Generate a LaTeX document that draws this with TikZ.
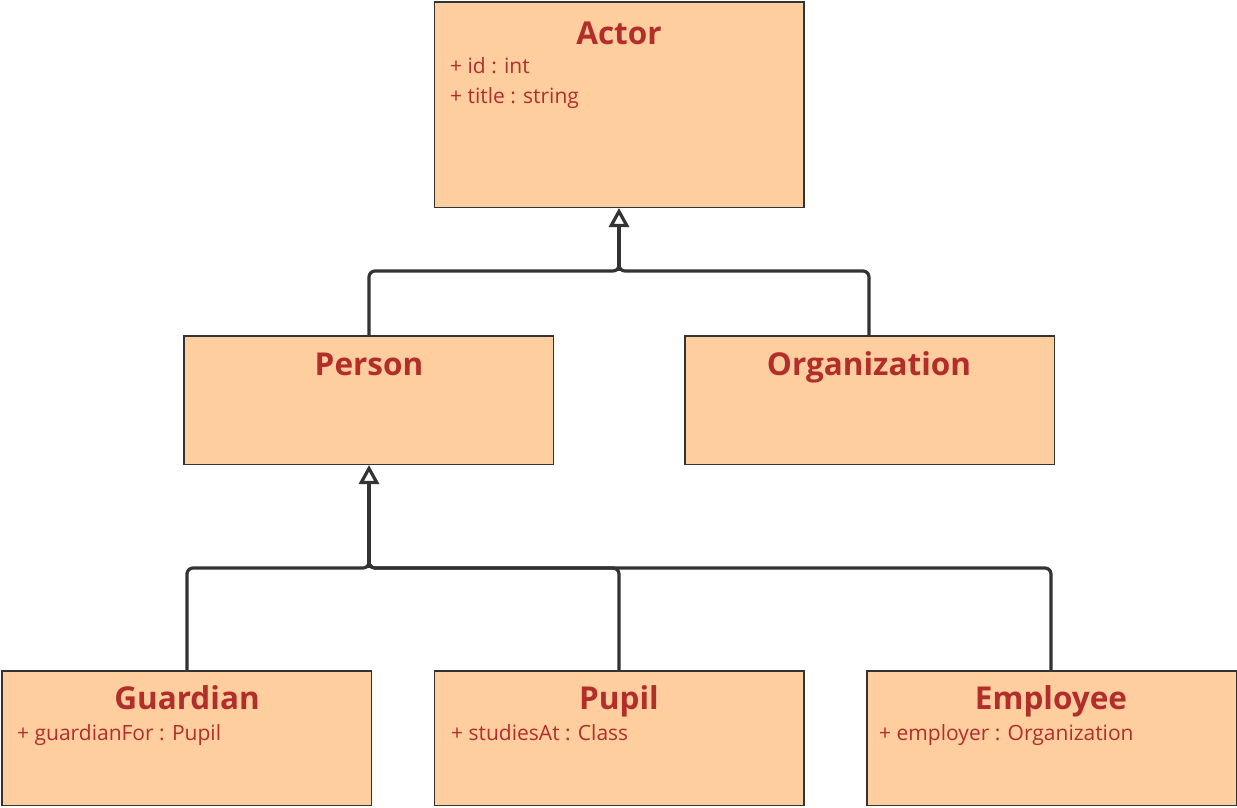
\documentclass[tikz,border=0pt]{standalone}
\usepackage{fontspec}
\setmainfont{Open Sans}
\usetikzlibrary{arrows.meta}
\definecolor{boxfill}{HTML}{FFCE9F}
\definecolor{boxline}{HTML}{333333}
\definecolor{txt}{HTML}{B22E2B}
\tikzset{
  umlbox/.style={draw=boxline, fill=boxfill, line width=1.5pt, rectangle, inner sep=0pt, minimum width=369.5pt},
  ttl/.style={text=txt, font=\fontsize{31.5}{36}\selectfont\bfseries, anchor=base, inner sep=0pt},
  attr/.style={text=txt, font=\fontsize{21}{25}\selectfont, anchor=base west, inner sep=0pt},
  conn/.style={draw=boxline, line width=3.2pt, rounded corners=6pt},
  gen/.style={draw=boxline, line width=3.2pt, -{Triangle[open, fill=white, length=19pt, width=20pt]}}
}
\begin{document}
\begin{tikzpicture}[x=1pt, y=-1pt]
\useasboundingbox (0,0) rectangle (1237,807);
% boxes
\node[umlbox, minimum height=205.5pt] (actor) at (619,104.5) {};
\node[umlbox, minimum height=128.5pt] (person) at (368.5,400) {};
\node[umlbox, minimum height=128.5pt] (org) at (869.5,400) {};
\node[umlbox, minimum height=134.5pt] (guard) at (186.5,738) {};
\node[umlbox, minimum height=134.5pt] (pupil) at (619,738) {};
\node[umlbox, minimum height=134.5pt] (emp) at (1051.5,738) {};
% titles and attributes
\node[ttl] (tactor) at (619,44) {Actor};
\node[attr] (a1) at (450,73) {+ id : int};
\node[attr] (a2) at (450,103) {+ title : string};
\node[ttl] (tperson) at (369,375) {Person};
\node[ttl] (torg) at (869,375) {Organization};
\node[ttl] (tguard) at (187,709) {Guardian};
\node[attr] (g1) at (17,740) {+ guardianFor : Pupil};
\node[ttl] (tpupil) at (619,709) {Pupil};
\node[attr] (p1) at (451,740) {+ studiesAt : Class};
\node[ttl] (temp) at (1051,709) {Employee};
\node[attr] (e1) at (879,740) {+ employer : Organization};
% junctions
\coordinate (j1) at (619,271);
\coordinate (j2) at (369,568);
% connectors
\draw[conn] (person.north -| 369,0) |- (j1) -- ++(0,-20);
\draw[conn] (org.north -| 869,0) |- (j1) -- ++(0,-20);
\draw[gen] (j1) -- (j1 |- actor.south);
\draw[conn] (guard.north -| 187,0) |- (j2) -- ++(0,-20);
\draw[conn] (pupil.north) |- (j2) -- ++(0,-20);
\draw[conn] (emp.north -| 1051,0) |- (j2) -- ++(0,-20);
\draw[gen] (j2) -- (j2 |- person.south);
\end{tikzpicture}
\end{document}
